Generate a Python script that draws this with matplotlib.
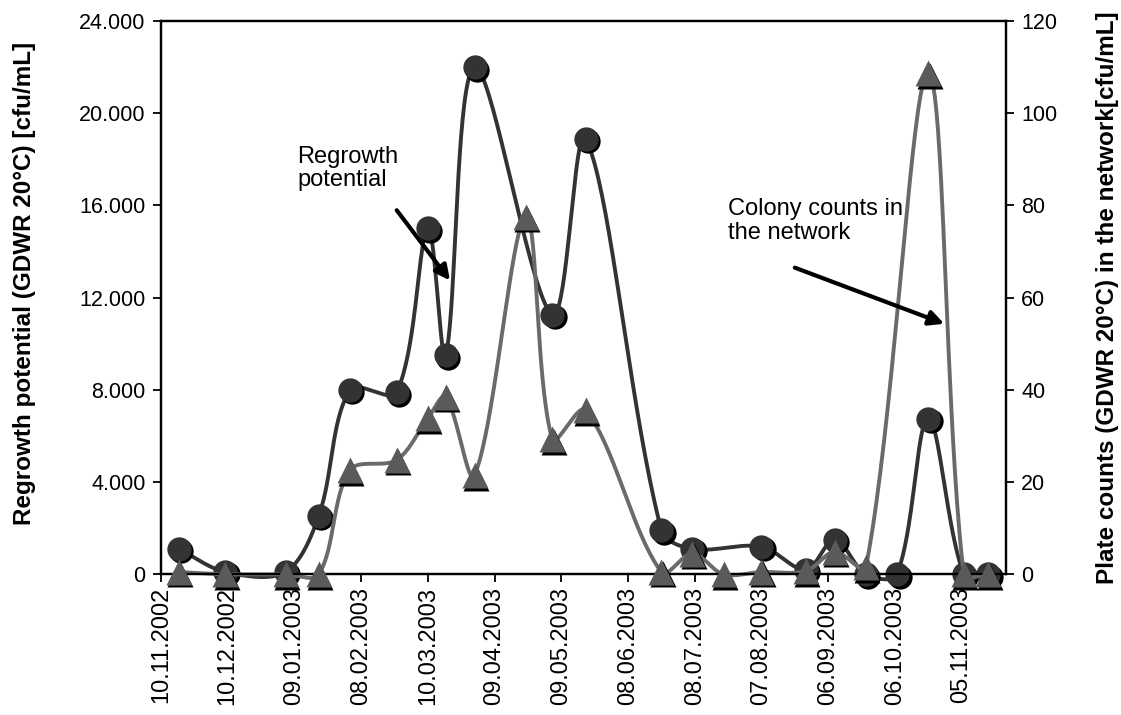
import numpy as np
import matplotlib
matplotlib.use("Agg")
import matplotlib.pyplot as plt
import matplotlib.dates as mdates
from matplotlib.ticker import FuncFormatter, MultipleLocator
from matplotlib.transforms import offset_copy, ScaledTranslation
from datetime import datetime, timedelta

plt.rcParams['font.family'] = ['Liberation Sans', 'DejaVu Sans']

# Sampling dates and measured values
sample_dates = ["18.11.2002", "09.12.2002", "05.01.2003", "20.01.2003", "03.02.2003",
                "24.02.2003", "10.03.2003", "18.03.2003", "31.03.2003", "23.04.2003",
                "05.05.2003", "20.05.2003", "23.06.2003", "07.07.2003", "21.07.2003",
                "07.08.2003", "27.08.2003", "09.09.2003", "23.09.2003", "07.10.2003",
                "21.10.2003", "06.11.2003", "17.11.2003"]
# regrowth potential [cfu/mL], left axis
regrowth = [1100, 100, 100, 2550, 8000, 7900, 15000, 9500, 22000, np.nan,
            11250, 18900, 1920, 1100, np.nan, 1200, 200, 1500, 0, 0,
            6750, 0, 0]
# plate counts in the network [cfu/mL], right axis
plate_counts = [0.5, 0, 0, 0, 22.6, 24.8, 33.8, 38.5, 21.5, 77.6,
                29.3, 35.6, 0.5, 4.5, 0, 0.5, 0.7, 4.9, 1.5, np.nan,
                108.7, 0, 0]

axis_start = "10.11.2002"
tick_step_days = 30
n_ticks = 13
axis_days = 380

x = mdates.date2num([datetime.strptime(d, "%d.%m.%Y") for d in sample_dates])
start = datetime.strptime(axis_start, "%d.%m.%Y")
tick_dates = [start + timedelta(days=tick_step_days * i) for i in range(n_ticks)]


def smooth_curve(ax, xs, ys, steps=40):
    # cardinal bezier through the points, built in pixel space so the
    # tangents are scaled by the on-screen segment lengths
    xs = np.asarray(xs, float)
    ys = np.asarray(ys, float)
    ok = ~np.isnan(ys)
    xs, ys = xs[ok], ys[ok]
    pts = ax.transData.transform(np.column_stack([xs, ys]))
    n = len(pts)
    tan = np.zeros_like(pts)
    w_in = np.zeros(n)
    w_out = np.zeros(n)
    for i in range(n):
        a = pts[max(i - 1, 0)]
        b = pts[min(i + 1, n - 1)]
        tan[i] = b - a
        d0 = np.hypot(*(pts[i] - a))
        d1 = np.hypot(*(b - pts[i]))
        tot = d0 + d1 if d0 + d1 > 0 else 1
        w_in[i] = d0 / tot / 3
        w_out[i] = d1 / tot / 3
    t = np.linspace(0, 1, steps)[:, None]
    out = []
    for i in range(n - 1):
        p1, p2 = pts[i], pts[i + 1]
        c1 = p1 + tan[i] * w_out[i]
        c2 = p2 - tan[i + 1] * w_in[i + 1]
        seg = ((1 - t) ** 3) * p1 + 3 * ((1 - t) ** 2) * t * c1 + 3 * (1 - t) * t ** 2 * c2 + t ** 3 * p2
        out.append(seg)
    curve = ax.transData.inverted().transform(np.vstack(out))
    return curve[:, 0], curve[:, 1], xs, ys


fig = plt.figure(figsize=(11.21, 7.15), dpi=100)
ax1 = fig.add_axes([0.1436, 0.1968, 0.7538, 0.7738])
ax2 = ax1.twinx()

ax1.set_xlim(mdates.date2num(start), mdates.date2num(start + timedelta(days=axis_days)))
ax1.set_ylim(0, 24000)
ax2.set_ylim(0, 120)

circle_col = '#333333'
tri_col = '#5a5a5a'
tri_line = '#6a6a6a'

# regrowth potential: dark circles
cx, cy, px, py = smooth_curve(ax1, x, regrowth)
ax1.plot(cx, cy, color=circle_col, lw=2.8, clip_on=False, zorder=2)
shadow1 = offset_copy(ax1.transData, fig=fig, x=2.5, y=-2.5, units='dots')
ax1.plot(px, py, 'o', ms=17.5, color='black', mec='none', transform=shadow1, clip_on=False, zorder=3)
ax1.plot(px, py, 'o', ms=17.5, color=circle_col, mec='none', clip_on=False, zorder=4)

# plate counts: grey triangles
tx, ty, qx, qy = smooth_curve(ax2, x, plate_counts)
ax2.plot(tx, ty, color=tri_line, lw=2.8, clip_on=False, zorder=2)
shadow2 = offset_copy(ax2.transData, fig=fig, x=1.5, y=-2.5, units='dots')
ax2.plot(qx, qy, '^', ms=19, color='black', mec='none', transform=shadow2, clip_on=False, zorder=3)
ax2.plot(qx, qy, '^', ms=19, color=tri_col, mec='none', clip_on=False, zorder=4)

ax1.yaxis.set_major_locator(MultipleLocator(4000))
ax2.yaxis.set_major_locator(MultipleLocator(20))
ax1.yaxis.set_major_formatter(FuncFormatter(lambda v, p: f"{v:,.0f}".replace(",", ".")))

ax1.set_xticks(mdates.date2num(tick_dates))
ax1.xaxis.set_major_formatter(mdates.DateFormatter("%d.%m.%Y"))
shift = ScaledTranslation(-12 / 100, 0, fig.dpi_scale_trans)
for lab in ax1.get_xticklabels():
    lab.set_rotation(90)
    lab.set_fontsize(17)
    lab.set_transform(lab.get_transform() + shift)

for a in (ax1, ax2):
    for s in a.spines.values():
        s.set_linewidth(1.6)
        s.set_color('black')
    a.tick_params(axis='y', direction='out', length=6, width=1.3, labelsize=15.5, pad=5)
ax1.tick_params(axis='x', direction='out', length=6, width=1.3, pad=3)

ax1.set_ylabel("Regrowth potential (GDWR 20°C) [cfu/mL]", fontsize=17.5, fontweight='bold')
ax2.set_ylabel("Plate counts (GDWR 20°C) in the network[cfu/mL]", fontsize=17.5, fontweight='bold')
ax1.yaxis.set_label_coords(-0.148, 0.525)
ax2.yaxis.set_label_coords(1.106, 0.5)

# annotations with arrows
ax2.text(0.161, 0.775, "Regrowth\npotential", transform=ax2.transAxes, fontsize=17,
         va='top', ha='left', linespacing=1.1)
ax2.annotate("", xy=(0.344, 0.527), xytext=(0.277, 0.662),
             xycoords='axes fraction', textcoords='axes fraction',
             arrowprops=dict(arrowstyle='-|>', color='black', lw=3, mutation_scale=22))
ax2.text(0.671, 0.68, "Colony counts in\nthe network", transform=ax2.transAxes, fontsize=17,
         va='top', ha='left', linespacing=1.1)
ax2.annotate("", xy=(0.930, 0.451), xytext=(0.747, 0.556),
             xycoords='axes fraction', textcoords='axes fraction',
             arrowprops=dict(arrowstyle='-|>', color='black', lw=3, mutation_scale=22))

fig.savefig("out.png", dpi=100)
